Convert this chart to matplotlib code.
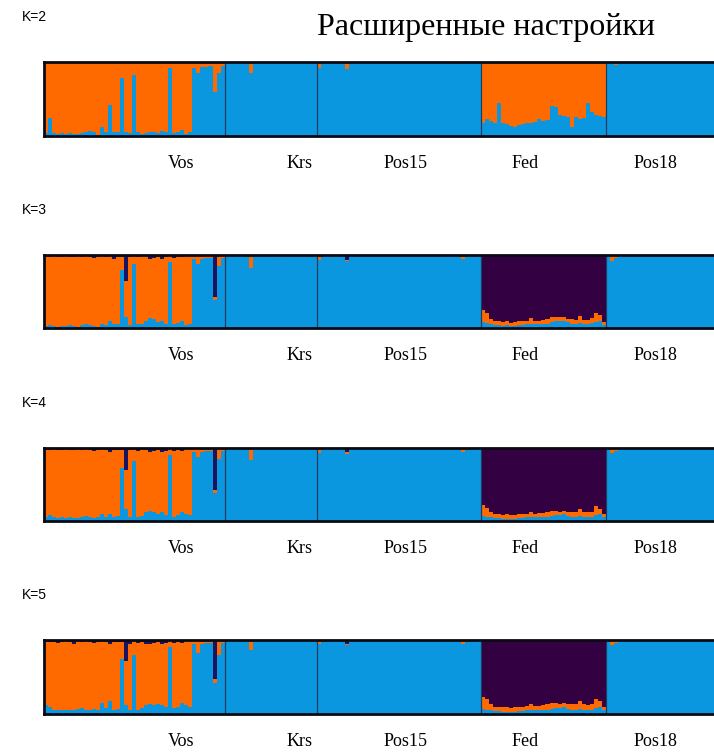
import matplotlib
matplotlib.use("Agg")
import matplotlib.pyplot as plt
import numpy as np

# ---------------- data ----------------
populations = ["Vos", "Krs", "Pos15", "Fed", "Pos18"]
pop_sizes = [45, 23, 41, 31, 27]
label_positions = [34.2, 63.8, 90.0, 120.0, 152.4]
k_values = [2, 3, 4, 5]
title_text = "Расширенные настройки"

# K=2 : blue fraction (orange = remainder)
k2_blue_vos = [0.04,0.24,0.04,0.03,0.04,0.03,0.04,0.03,0.03,0.04,0.05,0.07,0.05,0.02,0.12,0.05,0.42,0.06,0.05,0.79,0.06,0.04,0.82,0.05,0.03,0.04,0.05,0.06,0.04,0.07,0.05,0.92,0.04,0.06,0.08,0.03,0.05,0.92,0.85,0.93,0.93,0.94,0.60,0.85,0.95]
k2_blue_krs = [0.99,0.99,1.0,1.0,0.99,1.0,0.85,0.99,1.0,1.0,0.99,1.0,1.0,1.0,0.99,1.0,1.0,1.0,0.99,1.0,1.0,1.0,1.0]
k2_blue_pos15 = [0.92,0.98,0.99,0.99,0.98,0.99,0.99,0.90,0.98,0.99,0.99,0.99,0.98,0.99,0.99,0.99,0.99,0.99,0.99,0.99,0.99,0.99,0.99,0.99,0.99,0.99,0.99,0.99,0.99,0.99,0.99,0.99,0.99,0.99,0.99,0.99,0.97,0.99,0.99,0.99,0.99]
k2_blue_fed = [0.18,0.23,0.20,0.18,0.44,0.18,0.16,0.14,0.12,0.15,0.16,0.17,0.18,0.19,0.23,0.20,0.21,0.41,0.39,0.28,0.27,0.26,0.125,0.26,0.23,0.24,0.44,0.32,0.28,0.27,0.26]
k2_blue_pos18 = [1.0,0.99,0.96,0.99,1.0,1.0,0.99,1.0,1.0,1.0,0.99,1.0,1.0,1.0,1.0,0.99,1.0,1.0,1.0,1.0,0.99,1.0,1.0,1.0,1.0,0.99,1.0]

# K=3 : blue fraction and dark (top) fraction (orange = remainder)
k3_blue_vos = [0.03,0.04,0.03,0.02,0.03,0.03,0.04,0.03,0.02,0.04,0.05,0.04,0.03,0.02,0.06,0.04,0.10,0.05,0.05,0.80,0.15,0.04,0.88,0.05,0.06,0.10,0.14,0.12,0.08,0.10,0.06,0.90,0.05,0.07,0.10,0.04,0.06,0.95,0.88,0.95,0.96,0.96,0.38,0.85,0.96]
k3_dark_vos = [0.03,0.03,0.02,0.03,0.03,0.02,0.03,0.03,0.02,0.03,0.02,0.03,0.04,0.03,0.02,0.03,0.02,0.05,0.03,0.03,0.35,0.03,0.02,0.03,0.02,0.02,0.05,0.04,0.03,0.05,0.03,0.02,0.04,0.03,0.03,0.02,0.02,0.01,0.01,0.0,0.01,0.0,0.58,0.01,0.01]
k3_blue_krs = [0.99,0.99,1.0,1.0,0.99,1.0,0.82,0.99,1.0,1.0,0.99,0.99,0.97,1.0,0.99,0.97,1.0,1.0,0.99,0.98,1.0,1.0,1.0]
k3_dark_krs = [0.0,0.0,0.0,0.0,0.0,0.0,0.0,0.0,0.0,0.0,0.0,0.0,0.0,0.0,0.0,0.0,0.0,0.0,0.0,0.0,0.0,0.0,0.0]
k3_blue_pos15 = [0.93,0.98,0.99,0.98,0.99,0.98,0.99,0.92,0.98,0.99,0.99,0.98,0.99,0.99,0.98,0.99,0.99,0.99,0.98,0.99,0.99,0.99,0.99,0.98,0.99,0.99,0.99,0.99,0.98,0.99,0.99,0.99,0.98,0.99,0.99,0.99,0.94,0.99,0.99,0.98,0.99]
k3_dark_pos15 = [0.0,0.0,0.0,0.01,0.0,0.0,0.0,0.07,0.0,0.0,0.0,0.0,0.0,0.0,0.0,0.0,0.0,0.0,0.0,0.0,0.0,0.0,0.0,0.0,0.0,0.0,0.0,0.0,0.0,0.0,0.0,0.0,0.0,0.0,0.0,0.0,0.0,0.0,0.0,0.0,0.0]
k3_blue_fed = [0.08,0.07,0.05,0.04,0.04,0.03,0.04,0.03,0.03,0.04,0.04,0.05,0.06,0.05,0.05,0.05,0.06,0.08,0.10,0.09,0.10,0.08,0.05,0.06,0.07,0.06,0.05,0.07,0.08,0.10,0.04]
k3_dark_fed = [0.75,0.79,0.87,0.91,0.91,0.92,0.91,0.93,0.92,0.91,0.91,0.90,0.86,0.90,0.90,0.89,0.88,0.85,0.85,0.85,0.85,0.87,0.87,0.89,0.83,0.89,0.89,0.86,0.79,0.82,0.92]
k3_blue_pos18 = [0.98,0.92,0.96,0.99,0.99,0.99,0.98,0.99,0.99,0.99,0.98,0.99,0.99,0.99,0.99,0.98,0.99,0.99,0.99,0.99,0.98,0.99,0.99,0.99,0.99,0.98,0.99]
k3_dark_pos18 = [0.02,0.02,0.0,0.0,0.0,0.0,0.0,0.0,0.0,0.0,0.0,0.0,0.0,0.0,0.0,0.0,0.0,0.0,0.0,0.0,0.0,0.0,0.0,0.0,0.0,0.0,0.0]

# K=4
k4_blue_vos = [0.06,0.08,0.05,0.04,0.05,0.04,0.05,0.04,0.04,0.06,0.07,0.05,0.04,0.05,0.10,0.06,0.10,0.06,0.07,0.73,0.16,0.05,0.82,0.06,0.07,0.12,0.14,0.12,0.10,0.12,0.08,0.90,0.06,0.08,0.12,0.10,0.08,0.95,0.88,0.95,0.96,0.96,0.38,0.85,0.96]
k4_dark_vos = [0.03,0.03,0.02,0.03,0.03,0.02,0.03,0.03,0.02,0.03,0.02,0.03,0.04,0.03,0.02,0.03,0.05,0.03,0.03,0.03,0.30,0.03,0.02,0.04,0.02,0.03,0.05,0.04,0.03,0.05,0.04,0.02,0.04,0.03,0.04,0.02,0.02,0.01,0.01,0.0,0.01,0.0,0.58,0.01,0.01]
k4_blue_krs = [0.99,0.99,1.0,1.0,0.99,1.0,0.84,0.99,1.0,1.0,0.99,0.99,0.98,1.0,0.99,0.98,1.0,1.0,0.99,0.98,1.0,1.0,1.0]
k4_dark_krs = [0.0,0.0,0.0,0.0,0.0,0.0,0.0,0.0,0.0,0.0,0.0,0.0,0.0,0.0,0.0,0.0,0.0,0.0,0.0,0.0,0.0,0.0,0.0]
k4_blue_pos15 = [0.93,0.98,0.99,0.98,0.99,0.98,0.99,0.92,0.98,0.99,0.99,0.98,0.99,0.99,0.98,0.99,0.99,0.99,0.98,0.99,0.99,0.99,0.99,0.98,0.99,0.99,0.99,0.99,0.98,0.99,0.99,0.99,0.98,0.99,0.99,0.99,0.95,0.99,0.99,0.98,0.99]
k4_dark_pos15 = [0.0,0.0,0.0,0.01,0.0,0.0,0.0,0.06,0.0,0.0,0.0,0.0,0.0,0.0,0.0,0.0,0.0,0.0,0.0,0.0,0.0,0.0,0.0,0.0,0.0,0.0,0.0,0.0,0.0,0.0,0.0,0.0,0.0,0.0,0.0,0.0,0.0,0.0,0.0,0.0,0.0]
k4_blue_fed = [0.07,0.06,0.05,0.04,0.04,0.03,0.03,0.03,0.03,0.04,0.04,0.05,0.05,0.05,0.05,0.05,0.06,0.07,0.08,0.08,0.09,0.07,0.05,0.06,0.07,0.06,0.05,0.06,0.08,0.09,0.05]
k4_dark_fed = [0.78,0.82,0.88,0.90,0.91,0.92,0.91,0.92,0.92,0.91,0.90,0.90,0.88,0.90,0.89,0.89,0.88,0.86,0.86,0.87,0.86,0.87,0.87,0.88,0.84,0.88,0.88,0.87,0.80,0.83,0.90]
k4_blue_pos18 = [0.98,0.93,0.96,0.99,0.99,0.99,0.98,0.99,0.99,0.99,0.98,0.99,0.99,0.99,0.99,0.98,0.99,0.99,0.99,0.99,0.98,0.99,0.99,0.99,0.99,0.98,0.99]
k4_dark_pos18 = [0.02,0.02,0.0,0.0,0.0,0.0,0.0,0.0,0.0,0.0,0.0,0.0,0.0,0.0,0.0,0.0,0.0,0.0,0.0,0.0,0.0,0.0,0.0,0.0,0.0,0.0,0.0]

# K=5
k5_blue_vos = [0.12,0.10,0.06,0.05,0.06,0.05,0.06,0.05,0.07,0.08,0.06,0.05,0.07,0.06,0.15,0.08,0.17,0.06,0.07,0.74,0.12,0.05,0.80,0.06,0.08,0.12,0.13,0.12,0.13,0.12,0.10,0.90,0.08,0.10,0.15,0.12,0.10,0.95,0.83,0.95,0.96,0.96,0.42,0.80,0.96]
k5_dark_vos = [0.03,0.03,0.03,0.04,0.03,0.02,0.03,0.06,0.02,0.03,0.02,0.03,0.04,0.03,0.02,0.03,0.05,0.03,0.03,0.03,0.29,0.05,0.02,0.04,0.03,0.05,0.06,0.04,0.03,0.06,0.04,0.02,0.04,0.03,0.04,0.02,0.02,0.01,0.01,0.0,0.01,0.0,0.53,0.01,0.01]
k5_blue_krs = [0.99,0.99,1.0,1.0,0.99,1.0,0.87,0.99,1.0,1.0,0.99,0.99,0.98,1.0,0.99,0.98,1.0,1.0,0.99,0.98,1.0,1.0,1.0]
k5_dark_krs = [0.0,0.0,0.0,0.0,0.0,0.0,0.0,0.0,0.0,0.0,0.0,0.0,0.0,0.0,0.0,0.0,0.0,0.0,0.0,0.0,0.0,0.0,0.0]
k5_blue_pos15 = [0.94,0.98,0.99,0.98,0.99,0.98,0.99,0.93,0.98,0.99,0.99,0.98,0.99,0.99,0.98,0.99,0.99,0.99,0.98,0.99,0.99,0.99,0.99,0.98,0.99,0.99,0.99,0.99,0.98,0.99,0.99,0.99,0.98,0.99,0.99,0.99,0.95,0.99,0.99,0.98,0.99]
k5_dark_pos15 = [0.0,0.0,0.0,0.01,0.0,0.0,0.0,0.05,0.0,0.0,0.0,0.0,0.0,0.0,0.0,0.0,0.0,0.0,0.0,0.0,0.0,0.0,0.0,0.0,0.0,0.0,0.0,0.0,0.0,0.0,0.0,0.0,0.0,0.0,0.0,0.0,0.0,0.0,0.0,0.0,0.0]
k5_blue_fed = [0.07,0.06,0.05,0.04,0.04,0.03,0.03,0.03,0.03,0.04,0.04,0.05,0.05,0.05,0.05,0.05,0.06,0.07,0.08,0.08,0.09,0.07,0.05,0.06,0.07,0.06,0.05,0.06,0.08,0.09,0.05]
k5_dark_fed = [0.77,0.80,0.86,0.90,0.90,0.91,0.90,0.92,0.91,0.90,0.90,0.89,0.87,0.89,0.89,0.88,0.87,0.85,0.85,0.86,0.85,0.86,0.86,0.87,0.83,0.87,0.88,0.86,0.80,0.82,0.90]
k5_blue_pos18 = [0.98,0.93,0.96,0.99,0.99,0.99,0.98,0.99,0.99,0.99,0.98,0.99,0.99,0.99,0.99,0.98,0.99,0.99,0.99,0.99,0.98,0.99,0.99,0.99,0.99,0.98,0.99]
k5_dark_pos18 = [0.02,0.02,0.0,0.0,0.0,0.0,0.0,0.0,0.0,0.0,0.0,0.0,0.0,0.0,0.0,0.0,0.0,0.0,0.0,0.0,0.0,0.0,0.0,0.0,0.0,0.0,0.0]

zeros = lambda n: [0.0] * n
panels = [
    ([k2_blue_vos, k2_blue_krs, k2_blue_pos15, k2_blue_fed, k2_blue_pos18],
     [zeros(45), zeros(23), zeros(41), zeros(31), zeros(27)]),
    ([k3_blue_vos, k3_blue_krs, k3_blue_pos15, k3_blue_fed, k3_blue_pos18],
     [k3_dark_vos, k3_dark_krs, k3_dark_pos15, k3_dark_fed, k3_dark_pos18]),
    ([k4_blue_vos, k4_blue_krs, k4_blue_pos15, k4_blue_fed, k4_blue_pos18],
     [k4_dark_vos, k4_dark_krs, k4_dark_pos15, k4_dark_fed, k4_dark_pos18]),
    ([k5_blue_vos, k5_blue_krs, k5_blue_pos15, k5_blue_fed, k5_blue_pos18],
     [k5_dark_vos, k5_dark_krs, k5_dark_pos15, k5_dark_fed, k5_dark_pos18]),
]

# ---------------- style ----------------
BLUE = "#0a97e0"
ORANGE = "#ff6a00"
PURPLE = "#330042"
NAVY = "#1a1460"
W, H = 714, 754
top_px = [62, 255, 448, 640]
bot_px = [136, 328, 521, 714]
klabel_y = [17, 210, 403, 595]

fig = plt.figure(figsize=(W / 100, H / 100), dpi=100)
fig.text(486 / W, 1 - 28 / H, title_text, family="Liberation Serif",
         fontsize=23, ha="center", va="center", color="black")

total = sum(pop_sizes)
bounds = np.cumsum([0] + pop_sizes)

for p, (blues, darks) in enumerate(panels):
    ax = fig.add_axes([44 / W, 1 - bot_px[p] / H, (W - 44) / W,
                       (bot_px[p] - top_px[p]) / H])
    for g in range(len(populations)):
        b = np.array(blues[g], dtype=float)
        d = np.array(darks[g], dtype=float)
        o = np.clip(1 - b - d, 0, 1)
        x = bounds[g] + np.arange(len(b)) + 0.5
        dcol = PURPLE if populations[g] == "Fed" else NAVY
        ax.bar(x, b, width=1.0, color=BLUE, linewidth=0)
        ax.bar(x, o, width=1.0, bottom=b, color=ORANGE, linewidth=0)
        ax.bar(x, d, width=1.0, bottom=b + o, color=dcol, linewidth=0)
    for bx in bounds[1:-1]:
        ax.axvline(bx, color="#1d3b60", lw=0.9)
    ax.set_xlim(0, total)
    ax.set_ylim(0, 1)
    ax.set_yticks([])
    ax.set_xticks(label_positions)
    ax.set_xticklabels(populations, family="Liberation Serif", fontsize=13)
    ax.tick_params(axis="x", length=0, pad=14)
    for s in ["left", "top", "bottom"]:
        ax.spines[s].set_linewidth(2.0)
        ax.spines[s].set_color("#0a0a14")
    ax.spines["right"].set_visible(False)
    fig.text(22 / W, 1 - klabel_y[p] / H, f"K={k_values[p]}",
             family="Liberation Sans", fontsize=10, ha="left", va="center")

fig.savefig("out.png", dpi=100)
